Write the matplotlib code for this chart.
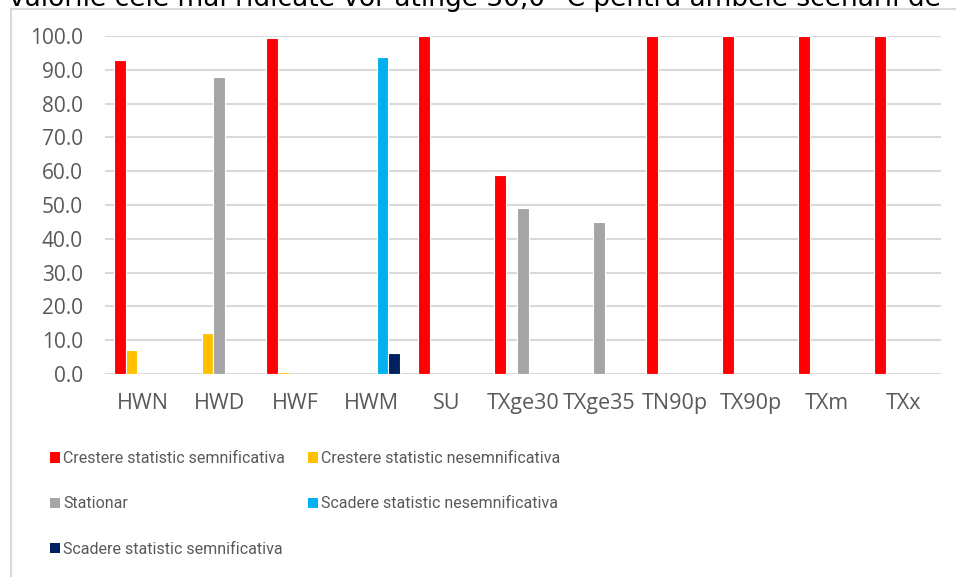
import matplotlib
matplotlib.use("Agg")
from matplotlib import pyplot as plt
from matplotlib.lines import Line2D
from matplotlib.patches import Patch
import numpy as np

# indices (x axis)
categories = ["HWN", "HWD", "HWF", "HWM", "SU", "TXge30", "TXge35",
              "TN90p", "TX90p", "TXm", "TXx"]

# percentage of stations per trend class
crest_semn = [93.0, 0, 99.3, 0, 100.0, 58.8, 0, 100.0, 100.0, 100.0, 100.0]
crest_nesemn = [7.0, 12.0, 0.7, 0, 0, 0, 0, 0, 0, 0, 0]
stationar = [0, 88.0, 0, 0, 0, 49.0, 45.0, 0, 0, 0, 0]
scad_nesemn = [0, 0, 0, 93.7, 0, 0, 0, 0, 0, 0, 0]
scad_semn = [0, 0, 0, 6.3, 0, 0, 0, 0, 0, 0, 0]

series = [
    ("Crestere statistic semnificativa", crest_semn, "#FF0000"),
    ("Crestere statistic nesemnificativa", crest_nesemn, "#FFC000"),
    ("Stationar", stationar, "#A5A5A5"),
    ("Scadere statistic nesemnificativa", scad_nesemn, "#00B0F0"),
    ("Scadere statistic semnificativa", scad_semn, "#002060"),
]

W, H = 956, 577
fig = plt.figure(figsize=(W / 100, H / 100), dpi=100)
fig.patch.set_facecolor("white")

# axes placed in pixel terms
left, right, top, bottom = 105, 941, 36, 374
ax = fig.add_axes([left / W, 1 - bottom / H, (right - left) / W, (bottom - top) / H])

x = np.arange(len(categories))
slot = 0.153
for k, (name, vals, color) in enumerate(series):
    ax.bar(x + (k - 2) * slot, vals, width=slot, color=color,
           edgecolor="white", linewidth=0.8, zorder=3)

ax.set_xlim(-0.5, len(categories) - 0.5)
ax.set_ylim(0, 100)
ax.set_yticks(np.arange(0, 101, 10))
ax.set_yticklabels([f"{v:.1f}" for v in np.arange(0, 101, 10)])
ax.set_xticks(x)
ax.set_xticklabels(categories)
ax.grid(axis="y", color="#D9D9D9", linewidth=1.5, zorder=0)
ax.set_axisbelow(True)
for s in ax.spines.values():
    s.set_visible(False)
ax.tick_params(axis="y", length=0, pad=16, labelsize=15, labelcolor="#595959")
ax.tick_params(axis="x", length=0, pad=14, labelsize=15.5, labelcolor="#595959")
for lab in ax.get_xticklabels() + ax.get_yticklabels():
    lab.set_family(["Open Sans", "DejaVu Sans"])

# legend in two columns
handles = {name: Patch(facecolor=color, edgecolor="none") for name, _, color in series}
col1 = [series[0][0], series[2][0], series[4][0]]
col2 = [series[1][0], series[3][0]]
leg_kw = dict(frameon=False, handlelength=0.62, handleheight=0.62, handletextpad=0.2,
              labelspacing=1.9, borderpad=0, borderaxespad=0, labelcolor="#595959",
              prop={"family": ["Roboto", "DejaVu Sans"], "size": 11.5})
leg1 = fig.legend([handles[n] for n in col1], col1, loc="upper left",
                  bbox_to_anchor=(50 / W, 1 - 451 / H), **leg_kw)
leg2 = fig.legend([handles[n] for n in col2], col2, loc="upper left",
                  bbox_to_anchor=(308 / W, 1 - 451 / H), **leg_kw)

# chart frame (partly visible) and clipped document text above
fig.add_artist(Line2D([11 / W, 11 / W], [0, 1 - 9 / H], transform=fig.transFigure,
                      color="#D9D9D9", linewidth=1.5))
fig.add_artist(Line2D([11 / W, 1], [1 - 9 / H, 1 - 9 / H], transform=fig.transFigure,
                      color="#D9D9D9", linewidth=1.5))
fig.text(9 / W, 1 - 6 / H, "valorile cele mai ridicate vor atinge 30,0 °C pentru ambele scenarii de",
         fontsize=19, family="DejaVu Sans", va="baseline", ha="left", color="black")

plt.savefig("out.png", dpi=100)
